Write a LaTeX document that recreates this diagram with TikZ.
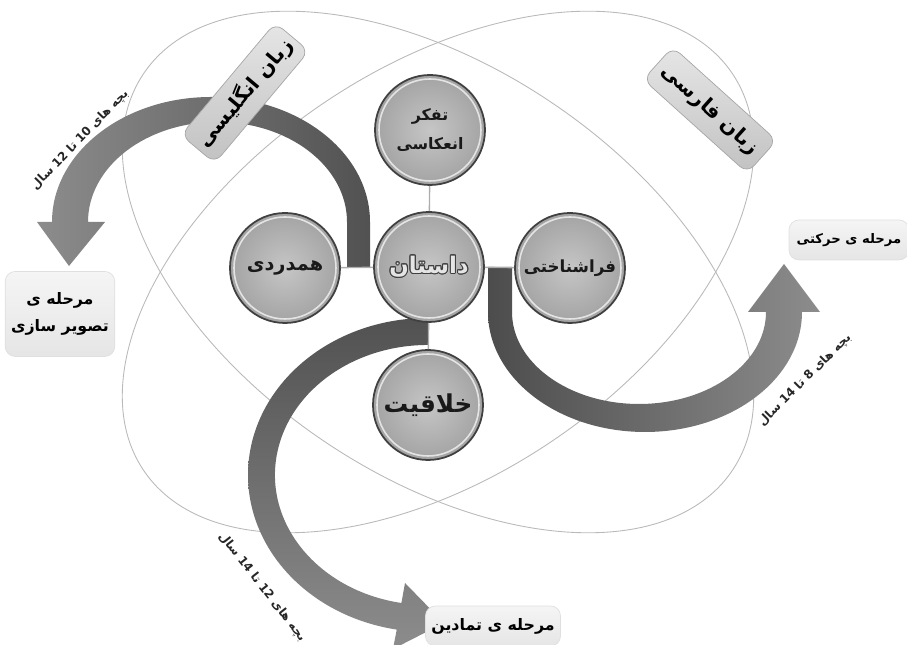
\documentclass[tikz,border=0pt]{standalone}
\usepackage{fontspec}
\usepackage{contour}
\newfontfamily\farsi[Script=Arabic]{DejaVu Sans}
\TeXXeTstate=1
\newcommand\fa[1]{{\farsi\bfseries\beginR #1\endR}}
\contourlength{0.6pt}
\def \ballSize {22mm}
\def \tagLength {28mm}
\tikzset{
  orbit/.style={draw=gray!55, line width=0.5pt},
  link/.style={draw=gray!65, line width=0.8pt},
  ball/.style={circle, minimum size=\ballSize, inner color=gray!45, outer color=gray!72,
    draw=black!75, line width=1pt, align=center, text=black!90,
    font=\fontsize{11}{13}\selectfont,
    path picture={\draw[white, line width=0.9pt, opacity=0.7] (path picture bounding box.center) circle (10.2mm);}},
  tag/.style={rectangle, rounded corners=2mm, minimum width=\tagLength, minimum height=8.8mm,
    top color=gray!20, bottom color=gray!48, draw=gray!70, font=\fontsize{11.5}{14}\selectfont},
  stage/.style={rectangle, rounded corners=2mm, top color=gray!8, bottom color=gray!20,
    draw=gray!25, align=center, font=\fontsize{9}{11}\selectfont},
  age/.style={font=\fontsize{6.8}{8}\selectfont, text=black!85}
}

\begin{document}
\begin{tikzpicture}[x=0.2mm, y=0.2mm]
         \useasboundingbox (0,0) rectangle (907,645);
         \draw[orbit, rotate around={-34:(438,373)}] (438,373) ellipse [x radius=355, y radius=204];
         \draw[orbit, rotate around={34:(438,373)}] (438,373) ellipse [x radius=355, y radius=204];
         \shade[left color=black!45, right color=black!68] (370,378) -- (370,423) arc [start angle=0, end angle=180, x radius=159, y radius=125] -- (37,423) -- (69,379) -- (105,423) -- (88,423) arc [start angle=180, end angle=0, x radius=129.5, y radius=100] -- (347,378) -- cycle;
         \shade[left color=black!70, right color=black!45] (488,378) -- (488,333) arc [start angle=180, end angle=360, x radius=157, y radius=120] -- (820,333) -- (784,381) -- (748,333) -- (766,333) arc [start angle=360, end angle=180, x radius=127, y radius=92] -- (512,378) -- cycle;
         \shade[top color=black!68, bottom color=black!45] (428,327) arc [start angle=90, end angle=260, x radius=180, y radius=157] -- (393,-4) -- (444,22) -- (405,62) -- (401.4,42) arc [start angle=260, end angle=90, x radius=153, y radius=130] -- cycle;
         \node[ball, font=\fontsize{9}{17}\selectfont] (tafakor) at (430,515) {\fa{تفکر}\\\fa{انعکاسی}};
         \node[ball, font=\fontsize{13}{15}\selectfont, text=gray!20] (dastan) at (429,378) {\contour{black!75}{\fa{داستان}}};
         \node[ball] (hamdardi) at (285,377) {\fa{همدردی}};
         \node[ball, font=\fontsize{9.5}{11}\selectfont] (farashenakhti) at (570,377) {\fa{فراشناختی}};
         \node[ball, font=\fontsize{14}{17}\selectfont] (khalaghiat) at (428,240) {\fa{خلاقیت}};
         \draw[link] (dastan) -- (tafakor);
         \draw[link] (dastan) -- (hamdardi);
         \draw[link] (dastan) -- (farashenakhti);
         \draw[link] (dastan) -- (khalaghiat);
         \node[tag, rotate=50] (english) at (245,552) {\fa{زبان انگلیسی}};
         \node[tag, rotate=-42] (farsi) at (710,535) {\fa{زبان فارسی}};
         \node[stage, minimum width=20mm, minimum height=17mm] (tasvir) at (60,331) {\fa{مرحله ی}\\[1.5mm]\fa{تصویر سازی}};
         \node[stage, minimum width=24mm, minimum height=8mm, font=\fontsize{7.5}{9}\selectfont] (harakati) at (849,405) {\fa{مرحله ی حرکتی}};
         \node[stage, minimum width=26mm, minimum height=8mm] (tamadin) at (493,19) {\fa{مرحله ی تمادین}};
         \node[age, rotate=46] (ageA) at (80,505) {\fa{بچه های \beginL 10\endL{} تا \beginL 12\endL{} سال}};
         \node[age, rotate=45] (ageB) at (805,265) {\fa{بچه های \beginL 8\endL{} تا \beginL 14\endL{} سال}};
         \node[age, rotate=-52] (ageC) at (262,58) {\fa{بچه های \beginL 12\endL{} تا \beginL 14\endL{} سال}};
      \end{tikzpicture}
\end{document}
